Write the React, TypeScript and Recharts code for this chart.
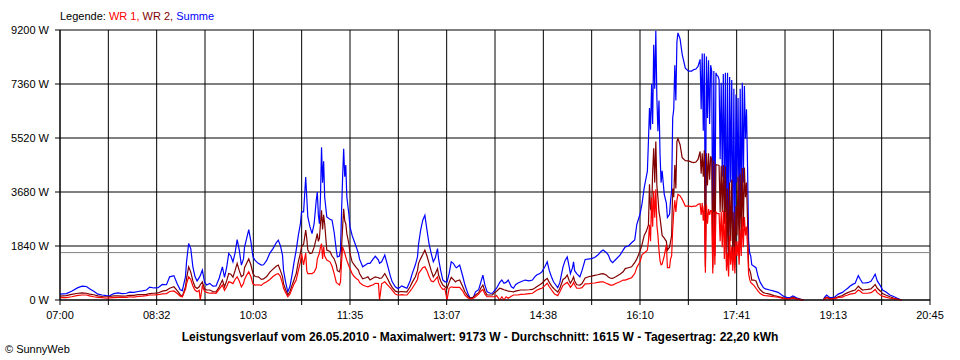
import React from 'react';
import { LineChart, Line, XAxis, YAxis, CartesianGrid, ReferenceLine } from 'recharts';

// Messzeitpunkte (hh:mm) und Leistung in W
const times = [
  '07:00', '07:06', '07:11', '07:17', '07:21', '07:25', '07:28', '07:32', '07:36', '07:40', '07:44',
  '07:47', '07:51', '07:55', '07:59', '08:03', '08:06', '08:10', '08:14', '08:18', '08:22', '08:25',
  '08:29', '08:33', '08:37', '08:41', '08:44', '08:48', '08:51', '08:54', '08:56', '08:59', '09:00',
  '09:02', '09:04', '09:06', '09:08', '09:10', '09:12', '09:13', '09:15', '09:17', '09:19', '09:22',
  '09:25', '09:28', '09:31', '09:34', '09:36', '09:38', '09:40', '09:42', '09:44', '09:46', '09:48',
  '09:50', '09:52', '09:54', '09:55', '09:57', '09:59', '10:01', '10:03', '10:05', '10:08', '10:11',
  '10:13', '10:16', '10:19', '10:22', '10:25', '10:27', '10:29', '10:31', '10:32', '10:34', '10:36',
  '10:38', '10:40', '10:42', '10:44', '10:46', '10:48', '10:49', '10:51', '10:53', '10:54', '10:55',
  '10:57', '10:59', '11:01', '11:03', '11:04', '11:05', '11:06', '11:07', '11:08', '11:09', '11:10',
  '11:11', '11:13', '11:16', '11:18', '11:20', '11:22', '11:23', '11:25', '11:26', '11:27', '11:28',
  '11:29', '11:30', '11:31', '11:32', '11:34', '11:35', '11:37', '11:39', '11:41', '11:43', '11:44',
  '11:47', '11:50', '11:52', '11:54', '11:57', '11:59', '12:02', '12:03', '12:05', '12:08', '12:11',
  '12:13', '12:15', '12:18', '12:20', '12:22', '12:24', '12:27', '12:29', '12:32', '12:34', '12:37',
  '12:39', '12:40', '12:42', '12:44', '12:46', '12:48', '12:50', '12:52', '12:54', '12:56', '12:58',
  '12:59', '13:01', '13:03', '13:05', '13:07', '13:09', '13:11', '13:13', '13:15', '13:16', '13:19',
  '13:22', '13:24', '13:27', '13:29', '13:32', '13:34', '13:37', '13:39', '13:41', '13:43', '13:45',
  '13:48', '13:50', '13:52', '13:54', '13:57', '13:59', '14:01', '14:03', '14:05', '14:08', '14:10',
  '14:12', '14:14', '14:17', '14:21', '14:25', '14:28', '14:30', '14:32', '14:35', '14:37', '14:40',
  '14:42', '14:44', '14:46', '14:48', '14:49', '14:52', '14:54', '14:57', '14:59', '15:01', '15:03',
  '15:04', '15:06', '15:07', '15:08', '15:10', '15:13', '15:15', '15:18', '15:22', '15:24', '15:27',
  '15:30', '15:33', '15:35', '15:38', '15:40', '15:42', '15:44', '15:47', '15:51', '15:54', '15:56',
  '15:59', '16:02', '16:05', '16:07', '16:10', '16:12', '16:14', '16:16', '16:17', '16:18', '16:19',
  '16:20', '16:21', '16:22', '16:23', '16:24', '16:25', '16:26', '16:27', '16:28', '16:29', '16:30',
  '16:31', '16:33', '16:35', '16:36', '16:38', '16:39', '16:40', '16:41', '16:42', '16:43', '16:44',
  '16:45', '16:46', '16:48', '16:50', '16:53', '16:56', '16:59', '17:01', '17:03', '17:05', '17:07',
  '17:08', '17:09', '17:10', '17:11', '17:12', '17:13', '17:14', '17:15', '17:16', '17:17', '17:18',
  '17:19', '17:20', '17:21', '17:22', '17:23', '17:24', '17:25', '17:26', '17:27', '17:28', '17:29',
  '17:30', '17:31', '17:32', '17:33', '17:34', '17:35', '17:36', '17:37', '17:38', '17:39', '17:40',
  '17:41', '17:42', '17:43', '17:44', '17:45', '17:46', '17:47', '17:48', '17:49', '17:50', '17:51',
  '17:52', '17:53', '17:54', '17:55', '17:56', '17:58', '18:00', '18:02', '18:04', '18:07', '18:09',
  '18:13', '18:17', '18:21', '18:26', '18:29', '18:32', '18:35', '18:39', '18:42', '18:45', '18:55',
  '19:04', '19:05', '19:07', '19:10', '19:13', '19:15', '19:18', '19:22', '19:24', '19:27', '19:29',
  '19:32', '19:34', '19:37', '19:39', '19:41', '19:43', '19:46', '19:49', '19:51', '19:53', '19:55',
  '19:58', '20:00', '20:03', '20:07', '20:11', '20:14', '20:18',
];

const summe = [
  200, 220, 300, 420, 470, 460, 380, 300, 200, 170, 150,
  140, 220, 240, 220, 230, 270, 260, 290, 310, 340, 440,
  410, 420, 530, 520, 790, 830, 560, 350, 320, 800, 1300,
  1925, 1750, 1130, 800, 650, 760, 830, 1020, 620, 510, 565,
  470, 480, 750, 1130, 770, 1100, 1585, 1500, 1300, 1600, 2060,
  1700, 1190, 1400, 1800, 2100, 2400, 2000, 1470, 1350, 1250, 1190,
  1200, 1350, 1600, 1750, 1950, 2040, 1850, 1530, 1000, 600, 280,
  450, 850, 1300, 1700, 2200, 2600, 3000, 3000, 4190, 3500, 2830,
  2500, 2260, 2600, 3400, 3680, 2900, 2600, 3500, 5200, 4000, 4730,
  3500, 2830, 2750, 2720, 2300, 1700, 1470, 1500, 1700, 3000, 4190,
  5150, 4200, 4600, 3510, 2900, 2490, 2200, 2000, 1800, 1585, 1400,
  1130, 1200, 1250, 1250, 1400, 1490, 1360, 1250, 1300, 1530, 1130,
  850, 620, 450, 400, 420, 480, 430, 400, 650, 900, 1200,
  1470, 1900, 2380, 2720, 2890, 2380, 1900, 1585, 1300, 1450, 1750,
  1400, 1000, 680, 620, 620, 900, 1300, 1250, 1130, 1100, 1190,
  800, 510, 200, 60, 90, 280, 350, 600, 850, 500, 280,
  230, 230, 320, 400, 600, 680, 570, 600, 680, 450, 400,
  520, 570, 620, 680, 650, 680, 780, 850, 900, 960, 1150,
  1300, 1000, 790, 620, 570, 420, 600, 1130, 1350, 1470, 1100,
  900, 1100, 1300, 1000, 900, 790, 1000, 1380, 1400, 1410, 1450,
  1530, 1650, 1700, 1620, 1530, 1350, 1270, 1380, 1530, 1700, 1810,
  1840, 1950, 2050, 2580, 2920, 3300, 3830, 4200, 4390, 5410, 6540,
  5800, 7360, 6000, 8700, 7200, 9173, 6880, 5750, 6800, 4970, 4000,
  4400, 3600, 3300, 2810, 2920, 3400, 3720, 6200, 6500, 8000, 6800,
  8800, 9100, 8900, 8370, 7900, 7800, 7800, 7850, 7870, 7960, 8200,
  6500, 8400, 5770, 8400, 1590, 8300, 6200, 8170, 6000, 8000, 7800,
  1590, 7800, 2200, 7740, 7650, 7620, 7500, 4800, 7400, 4200, 7700,
  3600, 7740, 1600, 7740, 1470, 7600, 4000, 7500, 1800, 7200, 1500,
  7000, 4000, 6880, 2500, 7200, 3000, 7400, 4000, 7290, 5500, 6500,
  4500, 2010, 1600, 1500, 1200, 1150, 1100, 800, 600, 420, 380,
  340, 300, 260, 130, 90, 80, 140, 70, 30, 0, null,
  0, 90, 170, 80, 90, 110, 200, 260, 320, 400, 470,
  540, 570, 830, 700, 580, 580, 590, 640, 750, 880, 650,
  480, 340, 280, 170, 110, 60, 0,
];

const wr2 = [
  135, 150, 190, 230, 240, 230, 200, 180, 140, 120, 110,
  120, 140, 140, 130, 140, 160, 160, 180, 180, 190, 220,
  230, 240, 300, 330, 400, 450, 330, 180, 120, 450, 740,
  1130, 950, 650, 450, 390, 450, 520, 620, 380, 340, 340,
  290, 280, 450, 680, 450, 650, 900, 880, 780, 1000, 1250,
  1000, 790, 850, 1100, 1250, 1400, 1200, 900, 800, 790, 700,
  720, 800, 950, 1050, 1150, 1190, 1000, 800, 550, 350, 170,
  280, 500, 700, 900, 1300, 1600, 1810, 1900, 2380, 2100, 1700,
  1585, 1600, 1800, 2100, 2260, 2000, 2100, 2600, 3060, 2400, 2900,
  2600, 1700, 1650, 1500, 1400, 1200, 1000, 960, 1100, 1800, 2490,
  3110, 2700, 2600, 2260, 1900, 1585, 1300, 1200, 1100, 1020, 900,
  720, 760, 790, 680, 750, 790, 760, 740, 750, 900, 700,
  550, 430, 300, 280, 280, 290, 280, 280, 450, 600, 790,
  1000, 1250, 1410, 1550, 1700, 1500, 1250, 1000, 790, 900, 1070,
  850, 650, 510, 450, 400, 600, 770, 700, 620, 650, 680,
  450, 280, 120, 60, 100, 170, 250, 400, 510, 300, 170,
  170, 170, 250, 300, 400, 380, 350, 330, 300, 290, 280,
  300, 320, 340, 340, 350, 360, 400, 450, 520, 570, 680,
  735, 600, 480, 400, 360, 270, 400, 700, 750, 850, 650,
  570, 700, 790, 650, 520, 510, 560, 750, 800, 815, 840,
  860, 890, 900, 850, 780, 740, 735, 790, 880, 960, 1070,
  1100, 1130, 1270, 1400, 1660, 1900, 2200, 2340, 2450, 2560, 3940,
  3100, 3040, 4390, 5170, 4000, 5400, 3900, 3490, 3000, 2800, 2500,
  2200, 2110, 2000, 1700, 1800, 2000, 2200, 3800, 3500, 4600, 3800,
  5400, 5500, 5290, 4850, 4750, 4740, 4700, 4680, 4700, 4790, 5060,
  4300, 5000, 4200, 5100, 1130, 5000, 3900, 5000, 4100, 4900, 4800,
  1100, 4750, 1500, 4620, 4600, 4600, 4580, 3000, 4570, 3000, 4600,
  2600, 4550, 1300, 3800, 1200, 4000, 2000, 4100, 1300, 3000, 1200,
  3200, 2200, 4200, 1600, 4300, 2000, 4500, 2500, 4510, 3500, 4000,
  2700, 1100, 1020, 900, 680, 680, 650, 450, 350, 250, 230,
  200, 150, 120, 70, 50, 50, 90, 40, 20, 0, null,
  0, 50, 100, 50, 55, 70, 110, 150, 200, 250, 280,
  320, 340, 470, 400, 340, 350, 360, 380, 450, 530, 400,
  300, 220, 170, 110, 60, 30, 0,
];

const wr1 = [
  80, 80, 110, 160, 170, 170, 140, 110, 90, 80, 60,
  70, 80, 90, 90, 90, 110, 100, 120, 130, 150, 170,
  170, 180, 210, 220, 290, 310, 230, 130, 110, 360, 550,
  790, 700, 480, 340, 280, 330, 0, 480, 300, 260, 230,
  240, 230, 370, 510, 330, 450, 620, 600, 560, 700, 790,
  650, 450, 560, 700, 850, 960, 800, 550, 510, 520, 500,
  565, 620, 700, 800, 880, 900, 800, 560, 400, 250, 110,
  200, 380, 550, 680, 1000, 1300, 1585, 1200, 1600, 1000, 900,
  900, 900, 950, 1100, 1400, 1500, 1600, 1800, 1920, 1400, 1810,
  1500, 1360, 1300, 1150, 900, 600, 565, 510, 620, 1300, 1810,
  1700, 1600, 1470, 1350, 1150, 1070, 900, 800, 730, 680, 600,
  510, 470, 450, 480, 520, 570, 560, 0, 550, 620, 500,
  420, 340, 200, 170, 170, 180, 170, 170, 300, 400, 570,
  700, 900, 1000, 1100, 1130, 1000, 800, 650, 620, 700, 790,
  600, 450, 360, 380, 0, 400, 450, 430, 430, 430, 430,
  300, 170, 70, 30, 60, 110, 200, 300, 360, 200, 110,
  110, 110, 110, 150, 0, 110, 0, 110, 60, 130, 170,
  170, 170, 190, 200, 220, 230, 280, 330, 380, 400, 500,
  570, 450, 350, 250, 200, 150, 280, 500, 550, 600, 500,
  430, 520, 600, 520, 400, 400, 420, 550, 560, 570, 580,
  600, 620, 620, 570, 540, 510, 510, 560, 620, 680, 680,
  720, 760, 900, 1110, 1300, 1550, 1600, 1660, 1700, 2000, 2560,
  2000, 3490, 2500, 3720, 2800, 3773, 2560, 2200, 1700, 1330, 1200,
  1220, 1500, 1890, 1100, 1100, 1400, 1500, 2400, 3000, 3400, 3000,
  3400, 3600, 3550, 3430, 3200, 3200, 3180, 3200, 3200, 3260, 3280,
  2900, 3300, 2700, 3200, 930, 3250, 2600, 3100, 2900, 3050, 3050,
  900, 3000, 1200, 3000, 2950, 2940, 2950, 2000, 3000, 1800, 3040,
  1400, 3000, 1000, 1590, 800, 2200, 1200, 1810, 1000, 1810, 900,
  2000, 1500, 2000, 1200, 2400, 1500, 2830, 1800, 2830, 2200, 2500,
  1800, 900, 700, 600, 560, 500, 400, 300, 220, 160, 150,
  135, 110, 100, 50, 40, 40, 60, 30, 10, 0, null,
  0, 40, 70, 30, 40, 45, 85, 100, 135, 170, 200,
  220, 230, 340, 300, 230, 230, 230, 250, 300, 360, 250,
  170, 130, 100, 60, 40, 20, 0,
];

const tickLabels = ['07:00', '08:32', '10:03', '11:35', '13:07', '14:38', '16:10', '17:41', '19:13', '20:45'];
const yTicks = [0, 1840, 3680, 5520, 7360, 9200];
const durchschnitt = 1615;
const title = 'Leistungsverlauf vom 26.05.2010 - Maximalwert: 9173 W - Durchschnitt: 1615 W - Tagesertrag: 22,20 kWh';

const FONT = '"Liberation Sans", Arial, sans-serif';

const toMinutes = (s: string) => {
  const [h, m] = s.split(':').map(Number);
  return h * 60 + m - 7 * 60;
};

const span = toMinutes(tickLabels[tickLabels.length - 1]);
const steps = (tickLabels.length - 1) * 2;
const xTicks = Array.from({ length: steps + 1 }, (_, i) => (i * span) / steps);

const data = times.map((t, i) => ({
  t: toMinutes(t),
  wr1: wr1[i],
  wr2: wr2[i],
  summe: summe[i],
}));

export default function App() {
  return (
    <div style={{ position: 'absolute', left: 0, top: 0, width: 960, height: 360, background: '#fff' }}>
      <LineChart width={960} height={360} data={data} margin={{ top: 30, right: 30, bottom: 30, left: 0 }}>
        <CartesianGrid stroke="#000" strokeWidth={1} />
        <ReferenceLine y={durchschnitt} stroke="#808080" strokeWidth={1} />
        <Line type="linear" dataKey="summe" stroke="#0000ff" strokeWidth={1.2} dot={false} isAnimationActive={false} />
        <Line type="linear" dataKey="wr2" stroke="#800000" strokeWidth={1.2} dot={false} isAnimationActive={false} />
        <Line type="linear" dataKey="wr1" stroke="#ff0000" strokeWidth={1.2} dot={false} isAnimationActive={false} />
        <XAxis
          dataKey="t"
          type="number"
          domain={[0, span]}
          ticks={xTicks}
          interval={0}
          allowDataOverflow
          height={30}
          tickSize={5}
          tickMargin={6}
          stroke="#000"
          tick={{ fill: '#000', fontSize: 11, fontFamily: FONT }}
          tickFormatter={(v: number) => {
            const i = xTicks.indexOf(v);
            return i % 2 === 0 ? tickLabels[i / 2] : '';
          }}
        />
        <YAxis
          type="number"
          domain={[0, 9200]}
          ticks={yTicks}
          interval={0}
          width={60}
          tickSize={5}
          tickMargin={6}
          stroke="#000"
          tick={{ fill: '#000', fontSize: 11, fontFamily: FONT }}
          tickFormatter={(v: number) => `${v} W`}
        />
      </LineChart>
      <svg width={960} height={360} style={{ position: 'absolute', left: 0, top: 0, pointerEvents: 'none' }}>
        <text x={60} y={20} fontSize={11} fontFamily={FONT} fill="#000">
          Legende: <tspan fill="#ff0000">WR 1,</tspan> <tspan fill="#800000">WR 2,</tspan>{' '}
          <tspan fill="#0000ff">Summe</tspan>
        </text>
        <text x={480} y={341} fontSize={12} fontWeight="bold" fontFamily={FONT} fill="#000" textAnchor="middle">
          {title}
        </text>
        <text x={5} y={353} fontSize={11} fontFamily={FONT} fill="#000">
          © SunnyWeb
        </text>
      </svg>
    </div>
  );
}
